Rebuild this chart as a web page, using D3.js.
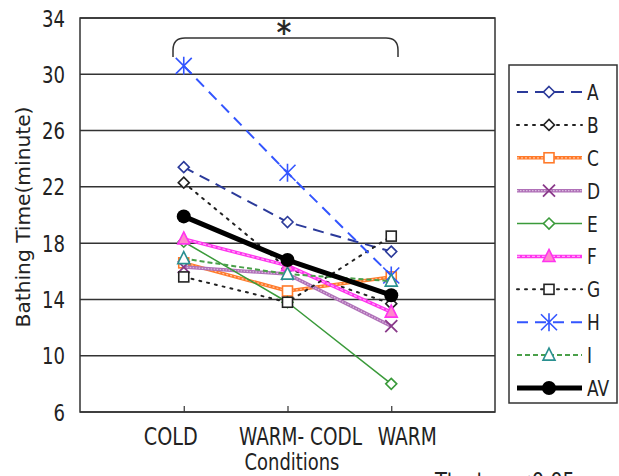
<!DOCTYPE html>
<html><head><meta charset="utf-8">
<script src="https://cdn.jsdelivr.net/npm/d3@7"></script>
<style>
body{margin:0;background:#fff;}
text{font-family:"DejaVu Sans Condensed","DejaVu Sans",sans-serif;fill:#222;}
</style></head>
<body><svg id="c" width="619" height="476"></svg>
<script>
const conditions = ["COLD", "WARM- CODL", "WARM"];
const yTicks = [6, 10, 14, 18, 22, 26, 30, 34];
const seriesNames = ["A","B","C","D","E","F","G","H","I","AV"];
const A  = [23.4, 19.5, 17.4];
const B  = [22.3, 16.2, 13.7];
const C  = [16.6, 14.6, 15.6];
const D  = [16.3, 15.8, 12.1];
const E  = [18.1, 13.8, 8.0];
const F  = [18.3, 16.4, 13.1];
const G  = [15.6, 13.8, 18.5];
const H  = [30.6, 23.0, 15.7];
const I  = [16.9, 15.8, 15.3];
const AV = [19.9, 16.8, 14.3];
const values = {A,B,C,D,E,F,G,H,I,AV};

const styles = {
  A:{color:"#2b3a9a", width:2, dash:"11,7", marker:"diamond", fill:"#fff"},
  B:{color:"#222", width:2, dash:"2,6", cap:"round", marker:"diamond", fill:"#fff"},
  C:{color:"#ff7a2a", width:3.5, dash:null, overlay:"2,2", marker:"square", fill:"#fff"},
  D:{color:"#b070b8", width:3.5, dash:null, overlay:"1.5,1.5", marker:"x", fill:"none", mcolor:"#8a3a8a"},
  E:{color:"#3a9a3a", width:1.5, dash:null, marker:"diamond", fill:"#fff"},
  F:{color:"#ff33ee", width:3.5, dash:null, overlay:"3,2", marker:"triangle", fill:"#ff88cc"},
  G:{color:"#222", width:2, dash:"2,6", cap:"round", marker:"square", fill:"#fff"},
  H:{color:"#3355ff", width:2, dash:"11,7", marker:"star", fill:"none"},
  I:{color:"#4aa04a", width:2, dash:"5,3", marker:"triangle", fill:"#fff", mcolor:"#2a9090"},
  AV:{color:"#000", width:5, dash:null, marker:"circle", fill:"#000"}
};

const svg = d3.select("#c");
const L = 80, R = 495, T = 18, Bt = 412;
const x = d3.scalePoint().domain(conditions).range([L, R]).padding(1);
const y = d3.scaleLinear().domain([6, 34]).range([Bt, T]);

// text fitted horizontally to a target width (narrow font look)
function ftext(parent, tx, ty, str, size, anchor, targetW, rot, defScale){
  const t = parent.append("text").attr("text-anchor", anchor).attr("font-size", size).text(str);
  const len = t.node().getComputedTextLength();
  const sx = targetW ? targetW/len : (defScale || 0.82);
  t.attr("transform", `translate(${tx},${ty})` + (rot?` rotate(${rot})`:"") + ` scale(${sx},1)`);
  return t;
}

// grid
svg.append("g").selectAll("line").data(yTicks).join("line")
  .attr("x1", L).attr("x2", R).attr("y1", d=>y(d)).attr("y2", d=>y(d))
  .attr("stroke", "#333").attr("stroke-width", 1.5);
// frame
svg.append("rect").attr("x", L).attr("y", T).attr("width", R-L).attr("height", Bt-T)
  .attr("fill","none").attr("stroke","#333").attr("stroke-width",1.5);

// y axis
const ya = svg.append("g").attr("transform",`translate(${L},0)`)
  .call(d3.axisLeft(y).tickValues(yTicks).tickSize(0).tickFormat(""));
ya.select(".domain").remove();
yTicks.forEach(t=>ftext(svg, 65, y(t)+8.5, String(t), 23, "end", String(t).length*11.5));

// x axis
const xa = svg.append("g").attr("transform",`translate(0,${Bt})`)
  .call(d3.axisTop(x).tickSize(6).tickFormat(""));
xa.select(".domain").remove();
xa.selectAll("line").attr("stroke","#333").attr("stroke-width",1.2);
const labelShift = [-13, 13, 16];
const labelW = [54, 123, 59];
conditions.forEach((c,i)=>ftext(svg, x(c)+labelShift[i], 445, c, 24.5, "middle", labelW[i]));

ftext(svg, 292, 470, "Conditions", 23.5, "middle", 95);
ftext(svg, 30, 217, "Bathing Time(minute)", 20, "middle", 221, -90);
ftext(svg, 435, 489, "Ttest : p<0.05", 23, "start", 140);

// bracket
const bx1 = 173, bx2 = 398, by1 = 38, by2 = 57, rr = 12;
svg.append("path")
  .attr("d", `M${bx1},${by2} L${bx1},${by1+rr} Q${bx1},${by1} ${bx1+rr},${by1} L${bx2-rr},${by1} Q${bx2},${by1} ${bx2},${by1+rr} L${bx2},${by2}`)
  .attr("fill","none").attr("stroke","#333").attr("stroke-width",1.5);
svg.append("text").attr("x", 284).attr("y", 43).attr("text-anchor","middle")
  .attr("font-size",32).attr("stroke","#222").attr("stroke-width",0.6).text("*");

function drawMarker(g, type, cx, cy, st){
  const mc = st.mcolor || st.color;
  if(type==="diamond"){
    g.append("path").attr("d", `M${cx},${cy-5.5} L${cx+5.5},${cy} L${cx},${cy+5.5} L${cx-5.5},${cy} Z`)
      .attr("fill", st.fill).attr("stroke", mc).attr("stroke-width",1.6);
  } else if(type==="square"){
    g.append("rect").attr("x",cx-5).attr("y",cy-5).attr("width",10).attr("height",10)
      .attr("fill", st.fill).attr("stroke", mc).attr("stroke-width",1.6);
  } else if(type==="triangle"){
    g.append("path").attr("d", `M${cx},${cy-7} L${cx+6},${cy+5} L${cx-6},${cy+5} Z`)
      .attr("fill", st.fill).attr("stroke", mc).attr("stroke-width",1.6);
  } else if(type==="x"){
    g.append("path").attr("d", `M${cx-6},${cy-6} L${cx+6},${cy+6} M${cx-6},${cy+6} L${cx+6},${cy-6}`)
      .attr("stroke", mc).attr("stroke-width",1.8);
  } else if(type==="star"){
    g.append("path").attr("d", `M${cx-8},${cy-8} L${cx+8},${cy+8} M${cx-8},${cy+8} L${cx+8},${cy-8} M${cx},${cy-9} L${cx},${cy+9}`)
      .attr("stroke", mc).attr("stroke-width",1.6);
  } else if(type==="circle"){
    g.append("circle").attr("cx",cx).attr("cy",cy).attr("r",7).attr("fill","#000");
  }
}

function drawLine(g, pts, st){
  const p = g.append("path").attr("d", d3.line()(pts)).attr("fill","none")
    .attr("stroke", st.color).attr("stroke-width", st.width)
    .attr("stroke-linecap", st.cap || "butt").attr("stroke-linejoin","round");
  if(st.dash) p.attr("stroke-dasharray", st.dash);
  if(st.overlay){
    g.append("path").attr("d", d3.line()(pts)).attr("fill","none")
      .attr("stroke","#fff").attr("stroke-opacity",0.55).attr("stroke-width",1.2)
      .attr("stroke-dasharray", st.overlay);
  }
}

// series
seriesNames.forEach(name=>{
  const st = styles[name];
  const g = svg.append("g");
  const pts = conditions.map((c,i)=>[x(c), y(values[name][i])]);
  drawLine(g, pts, st);
  pts.forEach(p=>drawMarker(g, st.marker, p[0], p[1], st));
});

// legend
const lg = svg.append("g");
lg.append("rect").attr("x",509).attr("y",65).attr("width",108).attr("height",338)
  .attr("fill","#fff").attr("stroke","#333").attr("stroke-width",1.5);
const ly = d3.scalePoint().domain(seriesNames).range([92, 388]);
seriesNames.forEach(name=>{
  const st = styles[name];
  const g = lg.append("g");
  const yy = ly(name);
  drawLine(g, [[517,yy],[582,yy]], st);
  drawMarker(g, st.marker, 549, yy, st);
  ftext(g, 587, yy+8, name, 22, "start", null, null, 0.86);
});
</script></body></html>
